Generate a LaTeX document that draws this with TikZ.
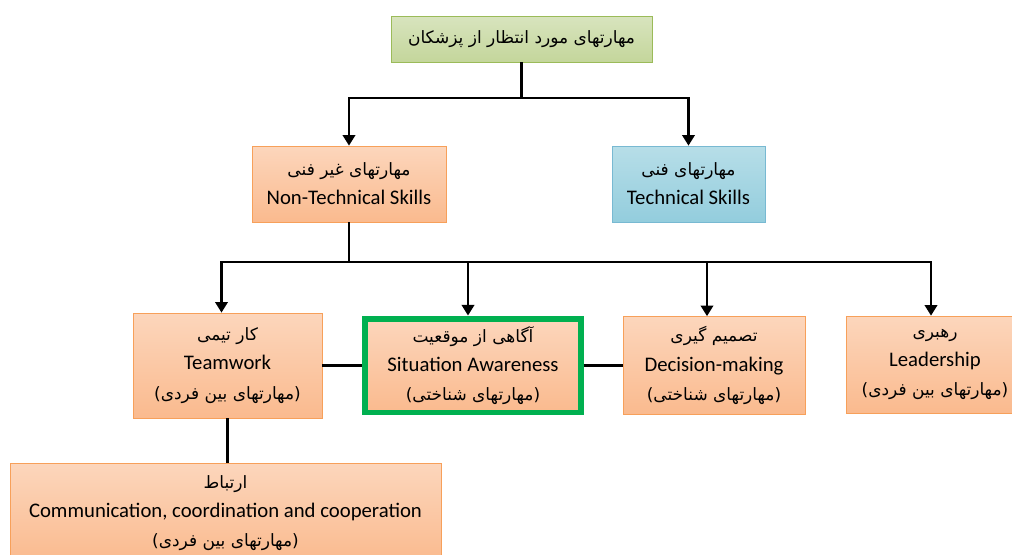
\documentclass[tikz,border=0pt]{standalone}
\usepackage{fontspec}
\setmainfont{Carlito}
\newfontfamily\persianfont[Script=Arabic,Scale=0.82]{DejaVu Sans}
\TeXXeTstate=1
\usepackage{tikz}
\usetikzlibrary{arrows.meta,positioning}
\newcommand{\fatxt}[1]{{\persianfont\beginR #1\endR}}
\definecolor{orangetop}{RGB}{252,214,188}
\definecolor{orangebot}{RGB}{250,186,142}
\definecolor{orangeline}{RGB}{247,160,90}
\definecolor{greentop}{RGB}{216,228,190}
\definecolor{greenbot}{RGB}{196,214,155}
\definecolor{greenline}{RGB}{155,187,89}
\definecolor{bluetop}{RGB}{183,222,232}
\definecolor{bluebot}{RGB}{147,205,221}
\definecolor{blueline}{RGB}{120,185,210}
\definecolor{brightgreen}{RGB}{0,176,80}
\tikzstyle{skillbox} = [rectangle, draw=orangeline, top color=orangetop, bottom color=orangebot, align=center, inner sep=0pt, font=\fontsize{11.8}{16.6}\selectfont]
\tikzstyle{topbox} = [skillbox, draw=greenline, top color=greentop, bottom color=greenbot]
\tikzstyle{techbox} = [skillbox, draw=blueline, top color=bluetop, bottom color=bluebot]
\tikzstyle{focusbox} = [skillbox, draw=brightgreen, line width=3.4pt]
\tikzstyle{conn} = [line width=1.4pt, black]
\tikzstyle{arr} = [conn, -{Triangle[width=7pt,length=6pt]}]

\begin{document}
\begin{tikzpicture}[x=0.02cm, y=-0.02cm]
\useasboundingbox (0,0) rectangle (1012,555);
% top level
\node[topbox, minimum width=5.22cm, minimum height=0.92cm] (expected) at (521.5,39) {\fatxt{مهارتهای مورد انتظار از پزشکان}};
\node[skillbox, minimum width=3.88cm, minimum height=1.52cm] (nontech) at (349,184) {\fatxt{مهارتهای غیر فنی}\\Non-Technical Skills};
\node[techbox, minimum width=3.06cm, minimum height=1.52cm] (tech) at (688.5,184) {\fatxt{مهارتهای فنی}\\Technical Skills};
% non-technical skills
\node[skillbox, minimum width=3.78cm, minimum height=2.1cm] (team) at (227.5,365.5) {\fatxt{کار تیمی}\\Teamwork\\\fatxt{(مهارتهای بین فردی)}};
\node[focusbox, minimum width=4.32cm, minimum height=1.88cm] (aware) at (473,365.5) {\fatxt{آگاهی از موقعیت}\\Situation Awareness\\\fatxt{(مهارتهای شناختی)}};
\node[skillbox, minimum width=3.64cm, minimum height=1.96cm] (decide) at (714,365.5) {\fatxt{تصمیم گیری}\\Decision-making\\\fatxt{(مهارتهای شناختی)}};
\node[skillbox, minimum width=3.56cm, minimum height=1.94cm] (lead) at (935,364.5) {\fatxt{رهبری}\\Leadership\\\fatxt{(مهارتهای بین فردی)}};
\node[skillbox, minimum width=8.62cm, minimum height=2.0cm] (comm) at (225.5,513) {\fatxt{ارتباط}\\Communication, coordination and cooperation\\\fatxt{(مهارتهای بین فردی)}};
% connectors
\coordinate (split1) at (521.5,98);
\coordinate (split2) at (349,262);
\draw[conn] (expected) -- (split1);
\draw[arr] (split1) -| (nontech);
\draw[arr] (split1) -| (tech);
\draw[conn] (nontech) -- (split2);
\draw[arr] (split2) -| ([xshift=-0.12cm]team.north);
\draw[arr] (split2) -| ([xshift=-0.1cm]aware.north);
\draw[arr] (split2) -| ([xshift=-0.14cm]decide.north);
\draw[arr] (split2) -| ([xshift=-0.08cm]lead.north);
\draw[conn] (team) -- (aware);
\draw[conn] (aware) -- (decide);
\draw[conn] (team.south) -- (team.south |- comm.north);
\end{tikzpicture}
\end{document}
